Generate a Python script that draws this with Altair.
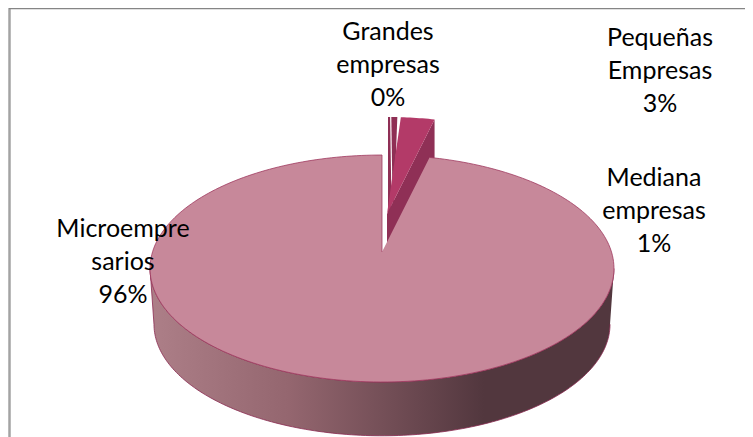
import numpy as np
import pandas as pd
import altair as alt

# --- data ---
categories = ["Microempresarios", "Pequeñas Empresas", "Mediana empresas", "Grandes empresas"]
shares = [96.2, 2.7, 0.8, 0.3]
label_text = ["Microempre\nsarios\n96%", "Pequeñas\nEmpresas\n3%", "Mediana\nempresas\n1%", "Grandes\nempresas\n0%"]

# --- pie geometry (reference pixels) ---
CX, CY, R, TILT, K = 382.0, 252.0, 229.5, 0.484, 0.1455
W_SCALE, W_DROP = 0.983, 56.0


def project(theta_deg, dx=0.0, dy=0.0):
    t = np.radians(np.asarray(theta_deg, dtype=float))
    X, Y = np.sin(t), np.cos(t)
    den = 1 + K * Y
    return CX + R * X / den + dx, CY - R * TILT * Y / den + dy


def frame(x, y):
    return pd.DataFrame({"x": x, "y": y, "i": np.arange(len(x))})


micro, peq, med, gra = shares
gap = 360.0 - micro * 3.6                # angular room left by the main slice

# main slice
mx, my = project(np.linspace(gap, 360.0, 240))
main = frame(np.r_[mx, CX], np.r_[my, CY])

# front wall
edge = np.degrees(np.arccos(-K))
fx, fy = project(np.linspace(edge, 360 - edge, 160))
bx = CX + (fx - CX) * W_SCALE
by = CY + (fy - CY) * W_SCALE + W_DROP
wall = frame(np.r_[fx, bx[::-1]], np.r_[fy, by[::-1]])

# exploded Pequeñas slice
P_DX, P_DY, P_H = 5.0, -38.0, 42.0
p_a0, p_a1 = gap - peq * 3.6, gap
px, py = project(np.linspace(p_a0, p_a1, 12), dx=P_DX, dy=P_DY)
ax, ay = CX + P_DX, CY + P_DY
peq_top = frame(np.r_[px, ax], np.r_[py, ay])
peq_wall = frame(np.array([px[-1], px[-1], ax, ax]), np.array([py[-1], py[-1] + P_H, ay + P_H, ay]))

# exploded slivers: Grandes and Mediana
G_DX, G_DY, G_H = 6.0, -38.0, 18.0
sx, sy = CX + G_DX, CY + G_DY + G_H
g_end = gra * 2.0
gx, gy = project(np.linspace(0, g_end, 4), dx=G_DX, dy=G_DY)
gra_top = frame(np.r_[gx, sx + 4.0, sx], np.r_[gy, sy, sy])
m_start = g_end + 0.35
mdx, mdy = project(np.linspace(m_start, m_start + med * 2.15, 4), dx=G_DX, dy=G_DY)
med_top = frame(np.r_[mdx, sx + 5.0], np.r_[mdy, sy])

# --- scales: one data unit = one reference pixel ---
xs = alt.Scale(domain=[8, 745], range=[0, 737], nice=False, zero=False)
ys = alt.Scale(domain=[8, 437], range=[0, 429], nice=False, zero=False)


def poly(df, fill, stroke=None, sw=0.0):
    opts = dict(fill=fill, strokeWidth=sw, interpolate="linear", clip=False)
    opts["stroke"] = stroke if stroke else "transparent"
    return alt.Chart(df).mark_line(**opts).encode(
        x=alt.X("x:Q", scale=xs, axis=None),
        y=alt.Y("y:Q", scale=ys, axis=None),
        order="i:Q",
    )


grad = alt.Gradient(
    gradient="linear", x1=0, x2=1, y1=0, y2=0,
    stops=[
        alt.GradientStop(color="#ad7f88", offset=0),
        alt.GradientStop(color="#94666f", offset=0.3),
        alt.GradientStop(color="#6d4a52", offset=0.55),
        alt.GradientStop(color="#52373e", offset=0.72),
        alt.GradientStop(color="#52373e", offset=1),
    ],
)


def rule(x, y, color, sw):
    df = pd.DataFrame({"x": x, "y": y, "i": range(len(x))})
    return alt.Chart(df).mark_line(stroke=color, strokeWidth=sw, clip=False).encode(
        x=alt.X("x:Q", scale=xs, axis=None), y=alt.Y("y:Q", scale=ys, axis=None), order="i:Q"
    )


labels = pd.DataFrame({
    "t": label_text,
    "px": [123, 660, 654, 388],
    "py": [237, 46, 186, 40],
})
text = alt.Chart(labels).mark_text(
    font="Lato", fontSize=25, lineBreak="\n", lineHeight=33, align="center", baseline="alphabetic", color="#000000"
).encode(
    x=alt.X("px:Q", scale=xs, axis=None),
    y=alt.Y("py:Q", scale=ys, axis=None),
    text="t:N",
)

chart = alt.layer(
    rule([9.5, 9.5], [8.0, 437.0], "#a3a3a3", 2.5),
    rule([9.0, 745.0], [8.5, 8.5], "#858585", 1.5),
    poly(gra_top, "#8f2f55"),
    poly(med_top, "#8f2f55"),
    poly(peq_wall, "#8f3056"),
    poly(peq_top, "#b33a68"),
    poly(wall, grad, "#8a2a50", 0.8),
    poly(main, "#c7889a", "#a03a60", 0.8),
    text,
).properties(
    width=737, height=429, padding=0, autosize=alt.AutoSizeParams(type="none")
).configure_view(stroke=None)

chart.save("out.html", embed_options={"renderer": "svg", "actions": False})
